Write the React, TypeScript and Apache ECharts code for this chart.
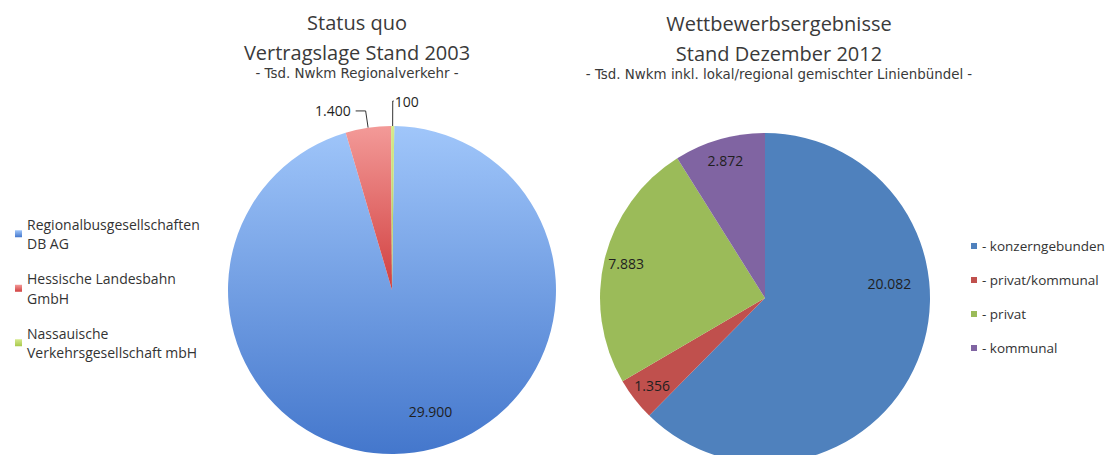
import React, { useEffect, useRef } from 'react';
import * as echarts from 'echarts';

const leftTitle = 'Status quo\nVertragslage Stand 2003';
const leftSub = '- Tsd. Nwkm Regionalverkehr -';
const rightTitle = 'Wettbewerbsergebnisse\nStand Dezember 2012';
const rightSub = '- Tsd. Nwkm inkl. lokal/regional gemischter Linienbündel -';

const leftNames = [
  'Regionalbusgesellschaften\nDB AG',
  'Hessische Landesbahn\nGmbH',
  'Nassauische\nVerkehrsgesellschaft mbH',
];
const leftValues = [29900, 1400, 100];

const rightNames = ['- konzerngebunden', '- privat/kommunal', '- privat', '- kommunal'];
const rightValues = [20082, 1356, 7883, 2872];

const FONT = '"Open Sans", "Noto Sans", sans-serif';
const SUBFONT = '"DejaVu Sans", "Open Sans", sans-serif';

const grad = (a: string, b: string) => ({
  type: 'linear', x: 0, y: 0, x2: 0, y2: 1,
  colorStops: [{ offset: 0, color: a }, { offset: 1, color: b }],
});
const leftColors = [
  grad('#A0C6FA', '#4477CC'),
  grad('#F39A98', '#D13F3F'),
  grad('#D6EA8E', '#A8C94C'),
];
const rightColors = ['#4F81BD', '#C0504D', '#9BBB59', '#8064A2'];

const fmt = (v: number) => String(v).replace(/\B(?=(\d{3})+(?!\d))/g, '.');

export default function App() {
  const ref = useRef<HTMLDivElement>(null);
  useEffect(() => {
    if (!ref.current) return;
    const chart = echarts.init(ref.current, null, { renderer: 'svg' });
    const labelBase = { fontFamily: FONT, fontSize: 14, color: '#1f1f1f' };
    chart.setOption({
      animation: false,
      backgroundColor: '#ffffff',
      title: [
        {
          text: leftTitle, subtext: leftSub, left: 357, top: 7, textAlign: 'center',
          padding: 0, itemGap: -1,
          textStyle: { fontFamily: FONT, fontSize: 20, fontWeight: 'normal', color: '#3a3a3a', lineHeight: 30 },
          subtextStyle: { fontFamily: SUBFONT, fontSize: 13.4, color: '#3a3a3a', lineHeight: 14 },
        },
        {
          text: rightTitle, subtext: rightSub, left: 779, top: 8, textAlign: 'center',
          padding: 0, itemGap: -1,
          textStyle: { fontFamily: FONT, fontSize: 20, fontWeight: 'normal', color: '#3a3a3a', lineHeight: 30 },
          subtextStyle: { fontFamily: SUBFONT, fontSize: 13.4, color: '#3a3a3a', lineHeight: 14 },
        },
      ],
      legend: [
        {
          orient: 'vertical', left: 15, top: 204.5, padding: 0,
          itemWidth: 7, itemHeight: 7, itemGap: -4, icon: 'rect', selectedMode: false,
          data: leftNames,
          textStyle: { fontFamily: FONT, fontSize: 14, color: '#333', lineHeight: 19.5, padding: [19.5, 0, 0, 0] },
        },
        {
          orient: 'vertical', left: 971, top: 238, padding: 0,
          itemWidth: 6, itemHeight: 6, itemGap: 18, icon: 'rect', selectedMode: false,
          data: rightNames,
          textStyle: { fontFamily: FONT, fontSize: 13.5, color: '#333', lineHeight: 16 },
        },
      ],
      series: [
        {
          type: 'pie', name: 'Stand 2003', center: [392, 290], radius: [0, 164],
          startAngle: 89.2, clockwise: true, avoidLabelOverlap: false, silent: true,
          itemStyle: { borderWidth: 0 },
          label: { show: true, position: 'outside', formatter: (p: any) => fmt(p.value), ...labelBase },
          labelLine: { show: true, length: 17, length2: 10, smooth: false, lineStyle: { color: '#333', width: 1 } },
          data: leftNames.map((n, i) => ({
            name: n, value: leftValues[i], itemStyle: { color: leftColors[i] },
            ...(i === 0 ? { label: { show: false }, labelLine: { show: false } } : {}),
            ...(i === 2 ? { label: { distanceToLabelLine: 1 }, labelLine: { length: 25, length2: 1 } } : {}),
          })),
        },
        {
          type: 'pie', name: 'Stand 2003 Labels', center: [392, 290], radius: [88, 164],
          startAngle: 89.2, clockwise: true, silent: true, avoidLabelOverlap: false,
          itemStyle: { color: 'rgba(0,0,0,0)', borderWidth: 0 },
          emphasis: { disabled: true },
          label: { show: true, position: 'inside', formatter: (p: any) => fmt(p.value), ...labelBase },
          labelLine: { show: false },
          labelLayout: (p: any) => (p.dataIndex === 0 ? { dx: 21, dy: -6 } : {}),
          data: leftNames.map((n, i) => ({
            name: n, value: leftValues[i],
            label: { show: i === 0 },
          })),
        },
        {
          type: 'pie', name: 'Dezember 2012', center: [765, 298], radius: [0, 165],
          startAngle: 90, clockwise: true, silent: true,
          itemStyle: { borderWidth: 0 },
          label: { show: false }, labelLine: { show: false },
          data: rightNames.map((n, i) => ({ name: n, value: rightValues[i], itemStyle: { color: rightColors[i] } })),
        },
        {
          type: 'pie', name: 'Dezember 2012 Labels', center: [765, 298], radius: [115, 165],
          startAngle: 90, clockwise: true, silent: true, avoidLabelOverlap: false,
          itemStyle: { color: 'rgba(0,0,0,0)', borderWidth: 0 },
          emphasis: { disabled: true },
          label: { show: true, position: 'inside', formatter: (p: any) => fmt(p.value), ...labelBase },
          labelLine: { show: false },
          labelLayout: (p: any) => (p.dataIndex === 0 ? { dx: -8, dy: -69 } : {}),
          data: rightNames.map((n, i) => ({ name: n, value: rightValues[i] })),
        },
      ],
    });
    return () => chart.dispose();
  }, []);
  return (
    <div
      ref={ref}
      style={{ position: 'fixed', left: 0, top: 0, width: 1106, height: 455, background: '#fff' }}
    />
  );
}
